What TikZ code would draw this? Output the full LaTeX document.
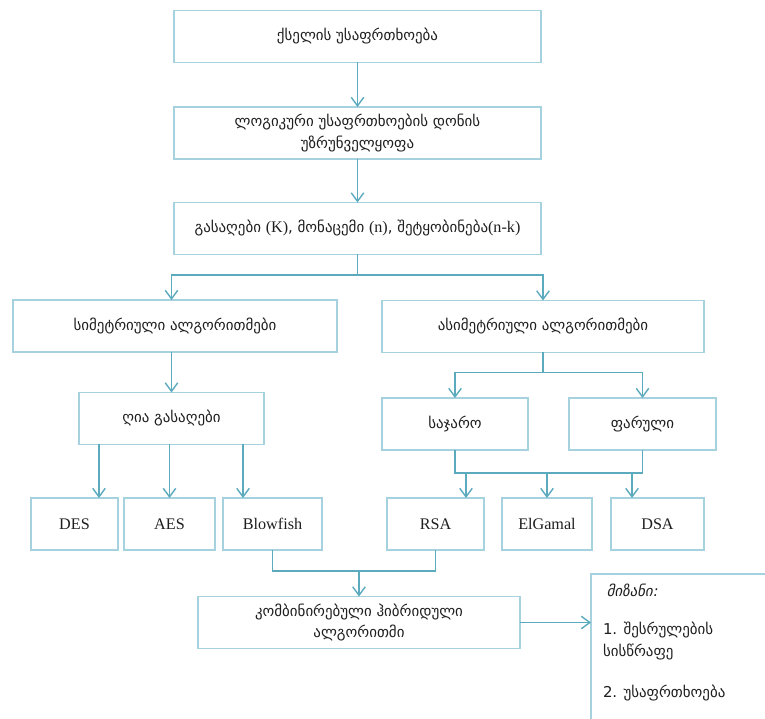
\documentclass[tikz,border=0pt]{standalone}
\usepackage{fontspec}
\setmainfont{Liberation Serif}
\newfontfamily\geo{DejaVu Sans}
\newfontfamily\geoit[FakeSlant=0.2]{DejaVu Sans}
\usetikzlibrary{arrows.meta}

\definecolor{boxline}{RGB}{165,210,222}
\definecolor{flowline}{RGB}{92,170,190}
\definecolor{txt}{RGB}{30,30,30}

\begin{document}
\begin{tikzpicture}[
  x=0.02cm,
  y=-0.02cm,
  every node/.style={outer sep=0pt},
  box/.style={draw=boxline, line width=0.8pt, minimum height=1.04cm, align=center, text=txt, font=\geo\fontsize{8.5}{12}\selectfont},
  latinbox/.style={box, font=\fontsize{9.2}{11}\selectfont},
  goalbox/.style={draw=boxline, line width=0.8pt, text=txt, font=\geo\fontsize{8.5}{12.5}\selectfont},
  link/.style={draw=flowline, line width=0.8pt},
  flow/.style={link, -{Straight Barb[length=1.7mm, width=2.5mm]}}
]

  \clip (0,0) rectangle (765,719);

  % top chain
  \node[box, minimum width=7.34cm] (sec) at (357.5,36.5) {ქსელის უსაფრთხოება};
  \node[box, minimum width=7.34cm] (logic) at (357.5,133) {ლოგიკური უსაფრთხოების დონის\\უზრუნველყოფა};
  \node[box, minimum width=7.34cm] (keys) at (357.5,228.5) {გასაღები {\rmfamily\fontsize{9.2}{11}\selectfont (K)}, მონაცემი {\rmfamily\fontsize{9.2}{11}\selectfont (n)}, შეტყობინება{\rmfamily\fontsize{9.2}{11}\selectfont (n-k)}};

  % two families
  \node[box, minimum width=6.48cm] (sym) at (175,326) {სიმეტრიული ალგორითმები};
  \node[box, minimum width=6.44cm] (asym) at (543,326.5) {ასიმეტრიული ალგორითმები};

  \node[box, minimum width=3.70cm] (open) at (171.5,418.5) {ღია გასაღები};
  \node[box, minimum width=2.92cm] (pub) at (455,424) {საჯარო};
  \node[box, minimum width=2.94cm] (priv) at (642.5,424) {ფარული};

  % algorithms
  \node[latinbox, minimum width=1.74cm] (des) at (74.5,524) {DES};
  \node[latinbox, minimum width=1.82cm] (aes) at (169.5,524) {AES};
  \node[latinbox, minimum width=1.98cm] (blow) at (272.5,524) {Blowfish};
  \node[latinbox, minimum width=1.94cm] (rsa) at (435.5,524) {RSA};
  \node[latinbox, minimum width=1.80cm] (elg) at (547,524) {ElGamal};
  \node[latinbox, minimum width=1.86cm] (dsa) at (657.5,524) {DSA};

  % result
  \node[box, minimum width=6.44cm] (hyb) at (359,622.5) {კომბინირებული ჰიბრიდული\\ალგორითმი};
  \node[goalbox, anchor=north west, inner xsep=0.24cm, inner ysep=0.2cm] (goal) at (591,574)
    {\parbox[t][3.2cm][t]{3.6cm}{\raggedright
      \hspace*{2pt}{\geoit მიზანი:}\\[9pt]1. შესრულების\\სისწრაფე\\[10.8pt]2. უსაფრთხოება}};

  \coordinate (desin) at ([xshift=0.49cm]des.north);
  \coordinate (blowin) at ([xshift=-0.59cm]blow.north);
  \coordinate (rsain) at ([xshift=0.61cm]rsa.north);
  \coordinate (dsain) at ([xshift=-0.51cm]dsa.north);

  % connectors
  \draw[flow] (sec) -- (logic);
  \draw[flow] (logic) -- (keys);
  \draw[link] (keys.south) -- ++(0,20.5) coordinate (split);
  \draw[flow] (split) -| (open.north |- sym.north);
  \draw[flow] (split) -| (asym.north);
  \draw[flow] (open.north |- sym.south) -- (open.north);

  \draw[link] (asym.south) -- ++(0,20) coordinate (asplit);
  \draw[flow] (asplit) -| (pub.north);
  \draw[flow] (asplit) -| (priv.north);

  \draw[flow] (desin |- open.south) -- (desin);
  \draw[flow] (aes.north |- open.south) -- (aes.north);
  \draw[flow] (blowin |- open.south) -- (blowin);

  \draw[link] (pub.south) -- ++(0,23) coordinate (pbus) -| (priv.south);
  \draw[flow] (rsain |- pbus) -- (rsain);
  \draw[flow] (elg.north |- pbus) -- (elg.north);
  \draw[flow] (dsain |- pbus) -- (dsain);

  \draw[link] (blow.south) -- ++(0,21) coordinate (hbus) -| (rsa.south);
  \draw[flow] (hyb.north |- hbus) -- (hyb.north);
  \draw[flow] (hyb.east) -- (hyb.east -| goal.west);

\end{tikzpicture}
\end{document}
